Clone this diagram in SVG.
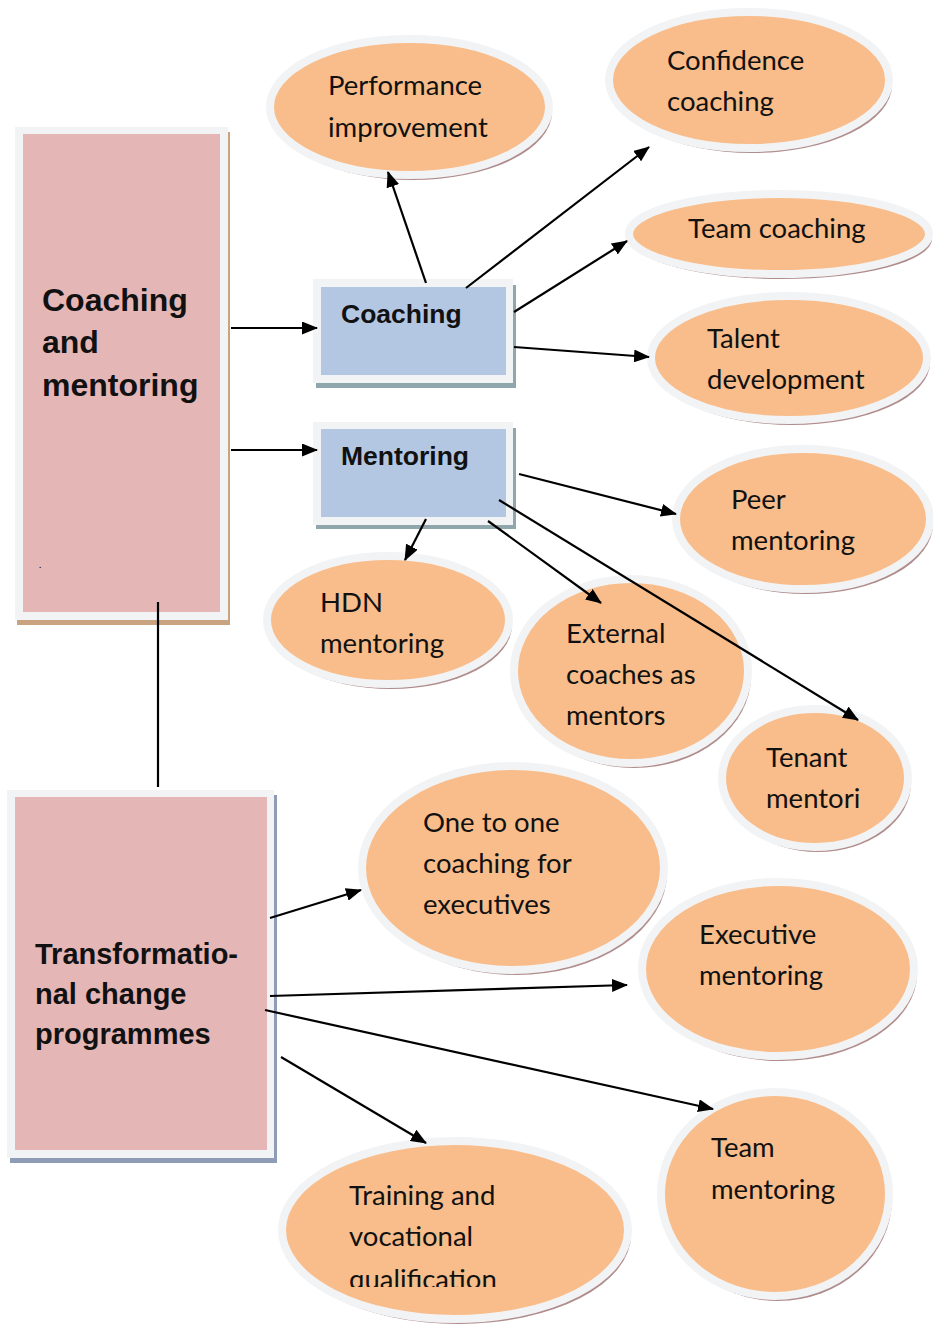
<svg xmlns="http://www.w3.org/2000/svg" width="933" height="1331" viewBox="0 0 933 1331">
  <style>
    .sh { fill: #b08c8c; }
    .el { fill: #f8bd8a; stroke: #f2f3f5; stroke-width: 8; }
    .lb { font-family: Lato, "Noto Sans", sans-serif; font-size: 27.5px; fill: #111; }
    .hd { font-family: "Liberation Sans", Arial, sans-serif; font-weight: bold; fill: #111; }
    .frame { fill: #f2f3f5; }
    .pink { fill: #e4b6b5; }
    .blue { fill: #b4c7e2; }
    .conn line { stroke: #000; stroke-width: 2.2; }
    .arrow line { marker-end: url(#head); }
  </style>
  <defs>
    <marker id="head" markerUnits="userSpaceOnUse" markerWidth="16" markerHeight="13" refX="15" refY="6.5" orient="auto">
      <path d="M0,0 L16,6.5 L0,13 Z" fill="#000"/>
    </marker>
    <clipPath id="clip-training">
      <rect x="300" y="1150" width="320" height="137"/>
    </clipPath>
  </defs>

  <rect width="933" height="1331" fill="#fff"/>

  <!-- Main category boxes -->
  <g id="n-coaching-mentoring">
    <rect x="17" y="132" width="213" height="493" fill="#c9a27f"/>
    <rect class="frame" x="15" y="127" width="213" height="493"/>
    <rect class="pink" x="23" y="134" width="197" height="478"/>
    <text class="hd" font-size="32"><tspan x="42" y="311">Coaching</tspan><tspan x="42" y="353">and</tspan><tspan x="42" y="396">mentoring</tspan></text>
    <text class="hd" font-size="8" x="39" y="568">.</text>
  </g>

  <g id="n-transformational">
    <rect x="10" y="795" width="267" height="368" fill="#8e9db5"/>
    <rect class="frame" x="7" y="790" width="267" height="368"/>
    <rect class="pink" x="15" y="797" width="252" height="353"/>
    <text class="hd" font-size="29"><tspan x="35" y="964">Transformatio-</tspan><tspan x="35" y="1004">nal change</tspan><tspan x="35" y="1044">programmes</tspan></text>
  </g>

  <g id="n-coaching">
    <rect x="316" y="285" width="200" height="103" fill="#8fa6ad"/>
    <rect class="frame" x="313" y="279" width="200" height="104"/>
    <rect class="blue" x="321" y="287" width="185" height="88"/>
    <text class="hd" font-size="26.5" x="341" y="323">Coaching</text>
  </g>

  <g id="n-mentoring">
    <rect x="316" y="428" width="200" height="101" fill="#8fa6ad"/>
    <rect class="frame" x="313" y="422" width="200" height="103"/>
    <rect class="blue" x="321" y="429" width="185" height="88"/>
    <text class="hd" font-size="26.5" x="341" y="465">Mentoring</text>
  </g>

  <!-- Coaching outcomes -->
  <g id="n-performance">
    <ellipse class="sh" cx="412.5" cy="112" rx="139.5" ry="68"/>
    <ellipse class="el" cx="409.5" cy="107" rx="139.5" ry="68"/>
    <text class="lb"><tspan x="328" y="95">Performance</tspan><tspan x="328" y="137">improvement</tspan></text>
  </g>

  <g id="n-confidence">
    <ellipse class="sh" cx="752" cy="85" rx="140" ry="68"/>
    <ellipse class="el" cx="749" cy="80" rx="140" ry="68"/>
    <text class="lb"><tspan x="667" y="70">Confidence</tspan><tspan x="667" y="111">coaching</tspan></text>
  </g>

  <g id="n-team-coaching">
    <ellipse class="sh" cx="782" cy="239" rx="150" ry="40"/>
    <ellipse class="el" cx="779" cy="234" rx="150" ry="40"/>
    <text class="lb" x="688" y="238">Team coaching</text>
  </g>

  <g id="n-talent">
    <ellipse class="sh" cx="792" cy="363" rx="138" ry="62"/>
    <ellipse class="el" cx="789" cy="358" rx="138" ry="62"/>
    <text class="lb"><tspan x="707" y="348">Talent</tspan><tspan x="707" y="389">development</tspan></text>
  </g>

  <!-- Mentoring outcomes -->
  <g id="n-peer">
    <ellipse class="sh" cx="806" cy="524" rx="127" ry="70"/>
    <ellipse class="el" cx="803" cy="519" rx="127" ry="70"/>
    <text class="lb"><tspan x="731" y="509">Peer</tspan><tspan x="731" y="550">mentoring</tspan></text>
  </g>

  <g id="n-hdn">
    <ellipse class="sh" cx="391" cy="625" rx="121" ry="64"/>
    <ellipse class="el" cx="388" cy="620" rx="121" ry="64"/>
    <text class="lb"><tspan x="320" y="612">HDN</tspan><tspan x="320" y="653">mentoring</tspan></text>
  </g>

  <g id="n-external">
    <ellipse class="sh" cx="634" cy="676" rx="117" ry="92"/>
    <ellipse class="el" cx="631" cy="671" rx="117" ry="92"/>
    <text class="lb"><tspan x="566" y="643">External</tspan><tspan x="566" y="684">coaches as</tspan><tspan x="566" y="725">mentors</tspan></text>
  </g>

  <g id="n-tenant">
    <ellipse class="sh" cx="818" cy="783" rx="93" ry="69"/>
    <ellipse class="el" cx="815" cy="778" rx="93" ry="69"/>
    <text class="lb"><tspan x="766" y="767">Tenant</tspan><tspan x="766" y="808">mentori</tspan></text>
  </g>

  <!-- Programme outcomes -->
  <g id="n-one-to-one">
    <ellipse class="sh" cx="516" cy="873" rx="151" ry="102"/>
    <ellipse class="el" cx="513" cy="868" rx="151" ry="102"/>
    <text class="lb"><tspan x="423" y="832">One to one</tspan><tspan x="423" y="873">coaching for</tspan><tspan x="423" y="914">executives</tspan></text>
  </g>

  <g id="n-executive">
    <ellipse class="sh" cx="781" cy="974" rx="136" ry="87"/>
    <ellipse class="el" cx="778" cy="969" rx="136" ry="87"/>
    <text class="lb"><tspan x="699" y="944">Executive</tspan><tspan x="699" y="985">mentoring</tspan></text>
  </g>

  <g id="n-team-mentoring">
    <ellipse class="sh" cx="778" cy="1199" rx="114" ry="102"/>
    <ellipse class="el" cx="775" cy="1194" rx="114" ry="102"/>
    <text class="lb"><tspan x="711" y="1157">Team</tspan><tspan x="711" y="1199">mentoring</tspan></text>
  </g>

  <g id="n-training">
    <ellipse class="sh" cx="458" cy="1235" rx="173" ry="89"/>
    <ellipse class="el" cx="455" cy="1230" rx="173" ry="89"/>
    <text class="lb" clip-path="url(#clip-training)"><tspan x="349" y="1205">Training and</tspan><tspan x="349" y="1246">vocational</tspan><tspan x="349" y="1289">qualification</tspan></text>
  </g>

  <!-- Connectors -->
  <g id="connectors" class="conn">
    <line x1="158" y1="602" x2="158" y2="787"/>
    <g class="arrow">
      <line x1="231" y1="328" x2="317" y2="328"/>
      <line x1="231" y1="450" x2="317" y2="450"/>
      <line x1="426" y1="283" x2="388" y2="172"/>
      <line x1="466" y1="288" x2="649" y2="147"/>
      <line x1="514" y1="312" x2="627" y2="241"/>
      <line x1="514" y1="347" x2="649" y2="357"/>
      <line x1="519" y1="474" x2="676" y2="514"/>
      <line x1="426" y1="519" x2="405" y2="560"/>
      <line x1="488" y1="521" x2="601" y2="603"/>
      <line x1="499" y1="500" x2="858" y2="720"/>
      <line x1="270" y1="918" x2="361" y2="890"/>
      <line x1="270" y1="996" x2="627" y2="985"/>
      <line x1="265" y1="1010" x2="713" y2="1109"/>
      <line x1="281" y1="1057" x2="426" y2="1143"/>
    </g>
  </g>
</svg>
